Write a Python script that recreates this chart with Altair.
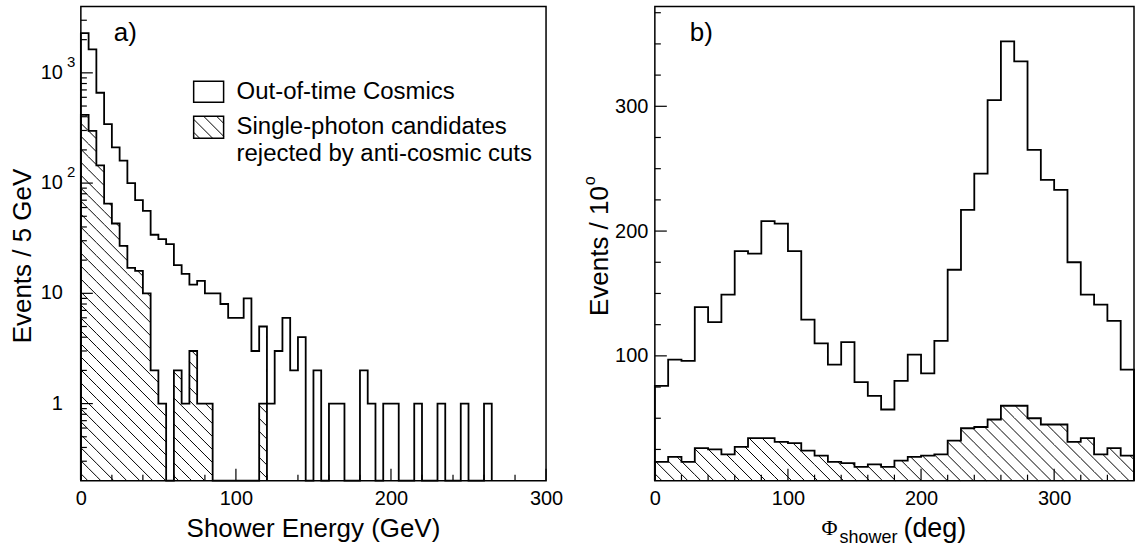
import math
import pandas as pd
import altair as alt

SANS = "Liberation Sans"
SERIF = "Liberation Serif"

# ---- a) shower energy, 5 GeV bins starting at 0 GeV ----
energy_bin = 5
cosmics_energy = [2290, 1630, 660, 342, 211, 160, 100, 70, 56, 34,
                  31, 28, 18, 15, 12, 13, 10, 10, 8, 6,
                  6, 9, 3, 5, 1, 3, 6, 2, 4, 0,
                  2, 0, 1, 1, 0, 0, 2, 1, 0, 1,
                  1, 0, 0, 1, 0, 0, 1, 0, 0, 1,
                  0, 0, 1]
rejected_energy = [416, 298, 145, 65, 43, 27, 17, 16, 10, 2,
                   1, 0, 2, 1, 3, 1, 1, 0, 0, 0,
                   0, 0, 0, 1]

# ---- b) shower azimuth, 10 degree bins starting at 0 deg ----
phi_bin = 10
cosmics_phi = [76, 97, 96, 139, 127, 149, 184, 182, 208, 206,
               184, 129, 110, 93, 111, 79, 68, 57, 80, 101,
               86, 112, 169, 217, 246, 305, 352, 336, 265, 241,
               233, 175, 149, 141, 128, 89]
rejected_phi = [15, 19, 15, 26, 25, 21, 27, 34, 34, 31,
                30, 24, 20, 15, 14, 11, 13, 11, 16, 19,
                20, 21, 32, 42, 43, 49, 60, 60, 50, 45,
                45, 31, 34, 21, 26, 20]

# ---- axis ticks and labels ----
energy_major = [0, 100, 200, 300]
energy_minor = [20, 40, 60, 80, 120, 140, 160, 180, 220, 240, 260, 280]
count_major = [1, 10, 100, 1000]
count_base = ["1", "10", "10", "10"]
count_power = ["", "", "2", "3"]
phi_major = [0, 100, 200, 300]
phi_minor = [20, 40, 60, 80, 120, 140, 160, 180, 220, 240, 260, 280, 320, 340]
phi_count_major = [100, 200, 300]
phi_count_minor = [25, 50, 75, 125, 150, 175, 225, 250, 275, 325, 350, 375]

legend_text = ["Out-of-time Cosmics", "Single-photon candidates",
               "rejected by anti-cosmic cuts"]

# ---- frame geometry and axis ranges ----
W_A, W_B, H = 466, 480, 475
GAP = 109
E_MAX = 300
N_MIN, N_MAX = 0.2, 4000
PHI_MAX = 360
M_MAX = 380
MAJOR, MINOR = 12, 6
HATCH = 13.0
LINE_W = 1.8

count_minor = [m * 10.0 ** e for e in range(-1, 4) for m in range(2, 10)
               if N_MIN < m * 10.0 ** e < N_MAX]

LOG_LO, LOG_HI = math.log10(N_MIN), math.log10(N_MAX)


# pixel <-> data conversions of both frames (used to lay out the hatching)
def a_px(x):
    return x / E_MAX * W_A


def a_py(v):
    return H * (1 - (math.log10(v) - LOG_LO) / (LOG_HI - LOG_LO))


def a_x(px):
    return px / W_A * E_MAX


def a_y(py):
    return 10 ** (LOG_LO + (1 - py / H) * (LOG_HI - LOG_LO))


def b_px(x):
    return x / PHI_MAX * W_B


def b_py(v):
    return H * (1 - v / M_MAX)


def b_x(px):
    return px / W_B * PHI_MAX


def b_y(py):
    return (1 - py / H) * M_MAX


def step_outline(counts, width, floor):
    xs, ys = [0.0], [floor]
    for i, c in enumerate(counts):
        xs.append(i * width)
        ys.append(max(c, floor))
    xs.append(len(counts) * width)
    ys.append(floor)
    return pd.DataFrame({"x": xs, "y": ys, "order": list(range(len(xs)))})


def hatch_lines(boxes, to_x, to_y):
    """Diagonal '\\' hatching clipped to pixel boxes (x0, x1, ytop, ybottom)."""
    rows = []
    for x0, x1, yt, yb in boxes:
        k0 = math.floor((x0 - yb) / HATCH)
        k1 = math.ceil((x1 - yt) / HATCH)
        for k in range(k0, k1 + 1):
            c = k * HATCH
            lo, hi = max(yt, x0 - c), min(yb, x1 - c)
            if hi - lo > 0.5:
                rows.append({"x": to_x(lo + c), "y": to_y(lo),
                             "x2": to_x(hi + c), "y2": to_y(hi)})
    return pd.DataFrame(rows)


def one(text=""):
    return pd.DataFrame({"t": [text]})


LABELS = dict(title=None, domain=False, ticks=False, tickSize=0, grid=False,
              labelFont=SANS, labelFontSize=20, labelColor="black",
              labelFlush=False, labelOverlap=False)

# ================= panel a) =================
sx_a = alt.Scale(domain=[0, E_MAX], nice=False, zero=False)
sy_a = alt.Scale(type="log", domain=[N_MIN, N_MAX], nice=False)
axis_a_x = alt.Axis(values=energy_major, labelPadding=8, **LABELS)


def ax(f):
    return alt.X(f, type="quantitative", scale=sx_a, axis=axis_a_x)


def ay(f):
    return alt.Y(f, type="quantitative", scale=sy_a, axis=None)


boxes_a = [(a_px(i * energy_bin), a_px((i + 1) * energy_bin), a_py(c), H)
           for i, c in enumerate(rejected_energy) if c > 0]
LEG_X0, LEG_X1 = 113, 143
LEG_OPEN = (75, 96)
LEG_HATCH = (110, 132)
hatch_a = pd.concat([
    hatch_lines(boxes_a, a_x, a_y),
    hatch_lines([(LEG_X0, LEG_X1, LEG_HATCH[0], LEG_HATCH[1])], a_x, a_y),
], ignore_index=True)

rule = dict(color="black", strokeWidth=1.2)

a_layers = [
    alt.Chart(hatch_a).mark_rule(color="black", strokeWidth=1).encode(
        x=ax("x"), y=ay("y"), x2="x2", y2="y2"),
    alt.Chart(step_outline(rejected_energy, energy_bin, N_MIN)).mark_line(
        interpolate="step-after", color="black", strokeWidth=LINE_W).encode(
        x=ax("x"), y=ay("y"), order="order:Q"),
    alt.Chart(step_outline(cosmics_energy, energy_bin, N_MIN)).mark_line(
        interpolate="step-after", color="black", strokeWidth=LINE_W).encode(
        x=ax("x"), y=ay("y"), order="order:Q"),
    # ticks drawn inside the frame
    alt.Chart(pd.DataFrame({"v": energy_major})).mark_rule(**rule).encode(
        x=ax("v"), y=alt.value(H), y2=alt.value(H - MAJOR)),
    alt.Chart(pd.DataFrame({"v": energy_minor})).mark_rule(**rule).encode(
        x=ax("v"), y=alt.value(H), y2=alt.value(H - MINOR)),
    alt.Chart(pd.DataFrame({"v": count_major})).mark_rule(**rule).encode(
        y=ay("v"), x=alt.value(0), x2=alt.value(MAJOR)),
    alt.Chart(pd.DataFrame({"v": count_minor})).mark_rule(**rule).encode(
        y=ay("v"), x=alt.value(0), x2=alt.value(MINOR)),
    # y tick labels: 1, 10, 10^2, 10^3
    alt.Chart(pd.DataFrame({"v": count_major, "base": count_base})).mark_text(
        align="right", baseline="middle", font=SANS, fontSize=20, color="black").encode(
        y=ay("v"), x=alt.value(-18), text="base:N"),
    alt.Chart(pd.DataFrame({"v": count_major, "power": count_power})).mark_text(
        align="left", baseline="middle", font=SANS, fontSize=15, dy=-11, color="black").encode(
        y=ay("v"), x=alt.value(-14), text="power:N"),
    # axis titles
    alt.Chart(one("Events / 5 GeV")).mark_text(
        angle=270, align="center", baseline="middle", font=SANS, fontSize=26, color="black").encode(
        x=alt.value(-58), y=alt.value(250), text="t:N"),
    alt.Chart(one("Shower Energy (GeV)")).mark_text(
        align="center", baseline="alphabetic", font=SANS, fontSize=26, color="black").encode(
        x=alt.value(W_A / 2), y=alt.value(531), text="t:N"),
    # legend
    alt.Chart(one()).mark_rect(fill="white", stroke="black", strokeWidth=1.5).encode(
        x=alt.value(LEG_X0), x2=alt.value(LEG_X1),
        y=alt.value(LEG_OPEN[0]), y2=alt.value(LEG_OPEN[1])),
    alt.Chart(one()).mark_rect(fillOpacity=0, stroke="black", strokeWidth=1.5).encode(
        x=alt.value(LEG_X0), x2=alt.value(LEG_X1),
        y=alt.value(LEG_HATCH[0]), y2=alt.value(LEG_HATCH[1])),
    alt.Chart(one(legend_text[0])).mark_text(
        align="left", baseline="middle", font=SANS, fontSize=24, color="black").encode(
        x=alt.value(156), y=alt.value(86), text="t:N"),
    alt.Chart(one(legend_text[1])).mark_text(
        align="left", baseline="middle", font=SANS, fontSize=24, color="black").encode(
        x=alt.value(156), y=alt.value(121), text="t:N"),
    alt.Chart(one(legend_text[2])).mark_text(
        align="left", baseline="middle", font=SANS, fontSize=24, color="black").encode(
        x=alt.value(156), y=alt.value(148), text="t:N"),
    alt.Chart(one("a)")).mark_text(
        align="left", baseline="middle", font=SANS, fontSize=26, color="black").encode(
        x=alt.value(33), y=alt.value(27), text="t:N"),
    # invisible guide fixing the outer extent of the figure
    alt.Chart(one()).mark_rule(strokeOpacity=0, strokeWidth=1).encode(
        x=alt.value(-80), y=alt.value(-5), y2=alt.value(H + 68)),
]
panel_a = alt.layer(*a_layers).properties(width=W_A, height=H)

# ================= panel b) =================
sx_b = alt.Scale(domain=[0, PHI_MAX], nice=False, zero=False)
sy_b = alt.Scale(domain=[0, M_MAX], nice=False, zero=True)
axis_b_x = alt.Axis(values=phi_major, labelPadding=8, **LABELS)
axis_b_y = alt.Axis(values=phi_count_major, labelPadding=7, **LABELS)


def bx(f):
    return alt.X(f, type="quantitative", scale=sx_b, axis=axis_b_x)


def by(f):
    return alt.Y(f, type="quantitative", scale=sy_b, axis=axis_b_y)


boxes_b = [(b_px(i * phi_bin), b_px((i + 1) * phi_bin), b_py(c), H)
           for i, c in enumerate(rejected_phi) if c > 0]
hatch_b = hatch_lines(boxes_b, b_x, b_y)

TITLE_TOP = 180
b_layers = [
    alt.Chart(hatch_b).mark_rule(color="black", strokeWidth=1).encode(
        x=bx("x"), y=by("y"), x2="x2", y2="y2"),
    alt.Chart(step_outline(rejected_phi, phi_bin, 0)).mark_line(
        interpolate="step-after", color="black", strokeWidth=LINE_W).encode(
        x=bx("x"), y=by("y"), order="order:Q"),
    alt.Chart(step_outline(cosmics_phi, phi_bin, 0)).mark_line(
        interpolate="step-after", color="black", strokeWidth=LINE_W).encode(
        x=bx("x"), y=by("y"), order="order:Q"),
    alt.Chart(pd.DataFrame({"v": phi_major})).mark_rule(**rule).encode(
        x=bx("v"), y=alt.value(H), y2=alt.value(H - MAJOR)),
    alt.Chart(pd.DataFrame({"v": phi_minor})).mark_rule(**rule).encode(
        x=bx("v"), y=alt.value(H), y2=alt.value(H - MINOR)),
    alt.Chart(pd.DataFrame({"v": phi_count_major})).mark_rule(**rule).encode(
        y=by("v"), x=alt.value(0), x2=alt.value(MAJOR)),
    alt.Chart(pd.DataFrame({"v": phi_count_minor})).mark_rule(**rule).encode(
        y=by("v"), x=alt.value(0), x2=alt.value(MINOR)),
    # y title with a superscript degree
    alt.Chart(one("Events / 10")).mark_text(
        angle=270, align="right", baseline="middle", font=SANS, fontSize=26, color="black").encode(
        x=alt.value(-55), y=alt.value(TITLE_TOP), text="t:N"),
    alt.Chart(one("o")).mark_text(
        angle=270, align="left", baseline="middle", font=SANS, fontSize=16, dx=1, dy=-10,
        color="black").encode(
        x=alt.value(-55), y=alt.value(TITLE_TOP), text="t:N"),
    # x title: Phi with subscript
    alt.Chart(one("Φ")).mark_text(
        align="left", baseline="alphabetic", font=SERIF, fontSize=22, color="black").encode(
        x=alt.value(167), y=alt.value(529), text="t:N"),
    alt.Chart(one("shower")).mark_text(
        align="left", baseline="alphabetic", font=SANS, fontSize=18, color="black").encode(
        x=alt.value(185), y=alt.value(537), text="t:N"),
    alt.Chart(one("(deg)")).mark_text(
        align="left", baseline="alphabetic", font=SANS, fontSize=27, color="black").encode(
        x=alt.value(249), y=alt.value(531), text="t:N"),
    alt.Chart(one("b)")).mark_text(
        align="left", baseline="middle", font=SANS, fontSize=26, color="black").encode(
        x=alt.value(35), y=alt.value(27), text="t:N"),
    alt.Chart(one()).mark_rule(strokeOpacity=0, strokeWidth=1).encode(
        x=alt.value(W_B + 4), y=alt.value(-5), y2=alt.value(H + 68)),
]
panel_b = alt.layer(*b_layers).properties(width=W_B, height=H)

chart = (
    alt.hconcat(panel_a, panel_b, spacing=GAP, bounds="flush")
    .properties(padding={"left": 0, "top": 0, "right": 0, "bottom": 0},
                background="white")
    .configure_view(stroke="black", strokeWidth=1.5)
)

chart.save("out.html", embed_options={"renderer": "svg", "actions": False})
